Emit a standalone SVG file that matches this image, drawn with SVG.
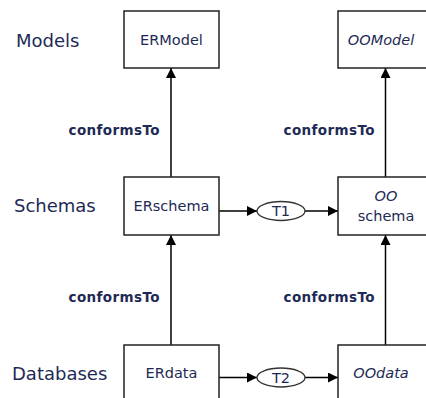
<svg xmlns="http://www.w3.org/2000/svg" width="426" height="398" viewBox="0 0 426 398">
<defs>
<marker id="ah" viewBox="0 0 10 10" refX="10" refY="5" markerWidth="10" markerHeight="10" markerUnits="userSpaceOnUse" orient="auto">
<path d="M0,0 L10,5 L0,10 Z" fill="#000"/>
</marker>
</defs>
<style>
.box{fill:#fff;stroke:#222;stroke-width:1.5}
.ell{fill:#fff;stroke:#333;stroke-width:1.3}
.edge{stroke:#000;stroke-width:1.5;fill:none;marker-end:url(#ah)}
.lvl{font-family:"DejaVu Sans",sans-serif;font-size:18px;fill:#1e2a55}
.nt{font-family:"DejaVu Sans",sans-serif;font-size:14.5px;fill:#1e2a55;text-anchor:middle}
.it{font-style:italic}
.lab{font-family:"DejaVu Sans",sans-serif;font-size:13.5px;font-weight:bold;letter-spacing:0.4px;fill:#1e2a55;text-anchor:end}
</style>
<text class="lvl" x="16" y="47">Models</text>
<text class="lvl" x="14" y="212">Schemas</text>
<text class="lvl" x="12" y="380">Databases</text>
<g id="connectors">
<line class="edge" x1="171" y1="177" x2="171" y2="68"/>
<line class="edge" x1="385.5" y1="177" x2="385.5" y2="68"/>
<line class="edge" x1="171" y1="345" x2="171" y2="235"/>
<line class="edge" x1="385.5" y1="345" x2="385.5" y2="235"/>
<line class="edge" x1="219" y1="211" x2="257" y2="211"/>
<line class="edge" x1="305" y1="211" x2="338" y2="211"/>
<line class="edge" x1="219" y1="377.5" x2="257" y2="377.5"/>
<line class="edge" x1="305" y1="377.5" x2="338" y2="377.5"/>
<text class="lab" x="160" y="135">conformsTo</text>
<text class="lab" x="375" y="135">conformsTo</text>
<text class="lab" x="160" y="302">conformsTo</text>
<text class="lab" x="375" y="302">conformsTo</text>
</g>
<g id="ERModel"><rect class="box" x="124" y="11" width="95" height="57"/><text class="nt" x="171.5" y="45">ERModel</text></g>
<g id="OOModel"><rect class="box" x="338" y="11" width="95" height="57"/><text class="nt it" x="381" y="45">OOModel</text></g>
<g id="ERschema"><rect class="box" x="124" y="177" width="95" height="58"/><text class="nt" x="171.5" y="211">ERschema</text></g>
<g id="OOschema"><rect class="box" x="338" y="177" width="95" height="58"/><text class="nt it" x="386" y="201">OO</text><text class="nt" x="386" y="221">schema</text></g>
<g id="T1"><ellipse class="ell" cx="281" cy="211" rx="24" ry="9.5"/><text class="nt" x="281" y="216">T1</text></g>
<g id="ERdata"><rect class="box" x="124" y="345" width="95" height="60"/><text class="nt" x="171.5" y="378">ERdata</text></g>
<g id="OOdata"><rect class="box" x="338" y="345" width="95" height="60"/><text class="nt it" x="381" y="378">OOdata</text></g>
<g id="T2"><ellipse class="ell" cx="281" cy="377.5" rx="24" ry="9.5"/><text class="nt" x="281" y="382.5">T2</text></g>
</svg>
